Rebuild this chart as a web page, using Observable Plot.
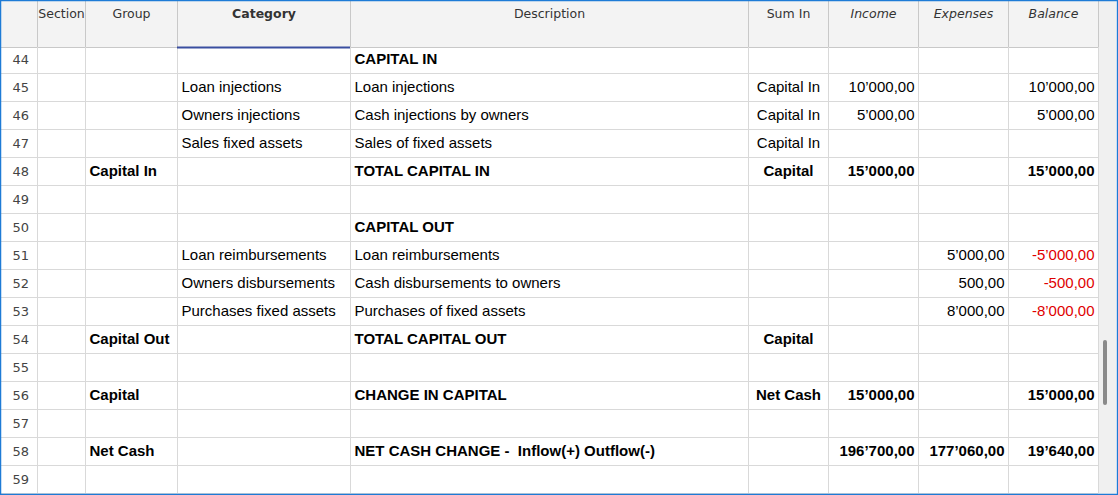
<!DOCTYPE html>
<html>
<head>
<meta charset="utf-8">
<script src="https://cdn.jsdelivr.net/npm/d3@7"></script>
<script src="https://cdn.jsdelivr.net/npm/@observablehq/plot@0.6"></script>
<style>
  body { margin: 0; background: #fff; }
</style>
</head>
<body>
<div id="chart"></div>
<script>
// data
const headers = ["", "Section", "Group", "Category", "Description", "Sum In", "Income", "Expenses", "Balance"];
const rowNumbers = [44, 45, 46, 47, 48, 49, 50, 51, 52, 53, 54, 55, 56, 57, 58, 59];
const groups = ["", "", "", "", "Capital In", "", "", "", "", "", "Capital Out", "", "Capital", "", "Net Cash", ""];
const categories = ["", "Loan injections", "Owners injections", "Sales fixed assets", "", "", "",
  "Loan reimbursements", "Owners disbursements", "Purchases fixed assets", "", "", "", "", "", ""];
const descriptions = ["CAPITAL IN", "Loan injections", "Cash injections by owners", "Sales of fixed assets",
  "TOTAL CAPITAL IN", "", "CAPITAL OUT", "Loan reimbursements", "Cash disbursements to owners",
  "Purchases of fixed assets", "TOTAL CAPITAL OUT", "", "CHANGE IN CAPITAL", "",
  "NET CASH CHANGE -  Inflow(+) Outflow(-)", ""];
const sumIn = ["", "Capital In", "Capital In", "Capital In", "Capital", "", "", "", "", "", "Capital", "", "Net Cash", "", "", ""];
const income = [null, 10000, 5000, null, 15000, null, null, null, null, null, null, null, 15000, null, 196700, null];
const expenses = [null, null, null, null, null, null, null, 5000, 500, 8000, null, null, null, null, 177060, null];
const balance = [null, 10000, 5000, null, 15000, null, null, -5000, -500, -8000, null, null, 15000, null, 19640, null];
const boldRows = [44, 48, 50, 54, 56, 58];

// layout
const edges = [0, 37, 85, 177, 350, 748, 828, 918, 1008, 1098];
const headerH = 47, rowH = 28;
const rowTop = i => headerH - 2 + i * rowH;

function fmt(v) {
  if (v == null) return "";
  const s = d3.format(",.2f")(Math.abs(v)).replace(/,/g, "’").replace(".", ",");
  return (v < 0 ? "-" : "") + s;
}

const cells = [];
rowNumbers.forEach((n, i) => {
  const y = rowTop(i) + rowH / 2;
  const bold = boldRows.includes(n);
  const push = (text, x, anchor, extra = {}) => { if (text) cells.push({text, x, y, anchor, bold, fill: "#000", ...extra}); };
  push(String(n), 12, "start", {bold: false, fill: "#444", num: true});
  push(groups[i], edges[2] + 4, "start");
  push(categories[i], edges[3] + 4, "start");
  push(descriptions[i], edges[4] + 4, "start");
  push(sumIn[i], (edges[5] + edges[6]) / 2, "middle");
  push(fmt(income[i]), edges[7] - 4, "end");
  push(fmt(expenses[i]), edges[8] - 4, "end");
  push(fmt(balance[i]), edges[9] - 4, "end", balance[i] < 0 ? {fill: "#e00000"} : {});
});

const cellFont = "Liberation Sans, Arial, sans-serif";
const cellMarks = [];
for (const anchor of ["start", "middle", "end"]) {
  for (const bold of [false, true]) {
    const sub = cells.filter(d => d.anchor === anchor && d.bold === bold && !d.num);
    if (sub.length) cellMarks.push(Plot.text(sub, {
      x: "x", y: "y", text: "text", fill: "fill", textAnchor: anchor,
      fontSize: 15, fontWeight: bold ? "bold" : "normal", fontFamily: cellFont
    }));
  }
}
const numCells = cells.filter(d => d.num);

const headerCells = headers.map((h, j) => ({
  text: h, x: (edges[j] + (edges[j + 1] ?? edges[j])) / 2, italic: j >= 6, bold: j === 3
})).filter(d => d.text);

const hLines = d3.range(rowNumbers.length + 1).map(i => rowTop(i)).filter(y => y > headerH);
const tableBottom = 493;
const hdrFont = "DejaVu Sans, sans-serif";

const chart = Plot.plot({
  width: 1118,
  height: 495,
  margin: 0,
  x: {domain: [0, 1118], range: [0, 1118], axis: null},
  y: {domain: [0, 495], range: [0, 495], axis: null},
  style: {background: "#fff", overflow: "visible"},
  marks: [
    Plot.rect([0], {x1: 0, x2: 1098, y1: 0, y2: headerH, fill: "#f3f3f3"}),
    Plot.rect([0], {x1: 1098, x2: 1116, y1: 0, y2: 495, fill: "#f0f0f0"}),
    Plot.rect([0], {x1: 1103, x2: 1107, y1: 340, y2: 405, fill: "#8a8a8a", rx: 2}),
    Plot.ruleY(hLines, {x1: 0, x2: 1098, stroke: "#d9d9d9"}),
    Plot.ruleY([headerH], {x1: 0, x2: 1098, stroke: "#c8c8c8"}),
    Plot.ruleX(edges.slice(1), {y1: 0, y2: tableBottom, stroke: "#d9d9d9"}),
    Plot.ruleX(edges.slice(1), {y1: 0, y2: headerH, stroke: "#c8c8c8"}),
    Plot.ruleY([headerH], {x1: edges[3], x2: edges[4], stroke: "#3a4ea0", strokeWidth: 2}),
    Plot.text(headerCells.filter(d => !d.italic && !d.bold), {x: "x", y: 13, text: "text", fontSize: 12.5, fill: "#333", fontFamily: hdrFont}),
    Plot.text(headerCells.filter(d => d.bold), {x: "x", y: 13, text: "text", fontSize: 12.5, fontWeight: "bold", fill: "#333", fontFamily: hdrFont}),
    Plot.text(headerCells.filter(d => d.italic), {x: "x", y: 13, text: "text", fontSize: 12.5, fontStyle: "italic", fill: "#333", fontFamily: hdrFont}),
    Plot.text(numCells, {x: "x", y: "y", text: "text", textAnchor: "start", fill: "#444", fontSize: 13, fontFamily: hdrFont}),
    ...cellMarks,
    Plot.rect([0], {x1: 0.5, x2: 1117.5, y1: 0.5, y2: 494.5, stroke: "#1e7bd6", strokeWidth: 1.5, fill: "none"})
  ]
});
document.getElementById("chart").append(chart);
</script>
</body>
</html>
